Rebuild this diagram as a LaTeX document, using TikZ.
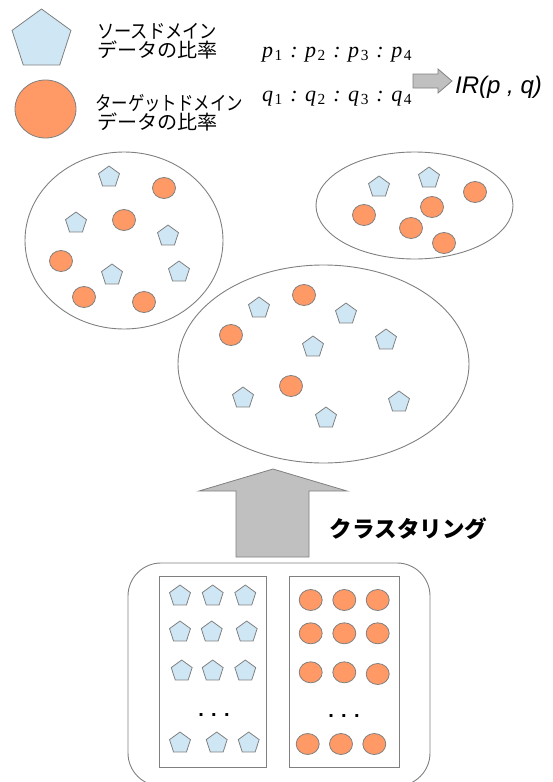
\documentclass[tikz,border=0pt]{standalone}
\usepackage{graphicx}
\usepackage{fontspec}
\setmainfont{Liberation Serif}
\newfontfamily\jp{Noto Sans CJK JP}
\newfontfamily\sansf{Liberation Sans}
\usetikzlibrary{shapes.geometric}

\definecolor{pentfill}{HTML}{CFE6F4}
\definecolor{circfill}{HTML}{FF9966}
\definecolor{edge}{HTML}{808080}
\definecolor{arrowfill}{HTML}{C0C0C0}

\tikzset{
 src/.style={regular polygon, regular polygon sides=5, draw=edge, fill=pentfill, minimum size=22pt, inner sep=0pt, line width=0.8pt},
 tgt/.style={ellipse, draw=edge, fill=circfill, minimum width=23pt, minimum height=21pt, inner sep=0pt, line width=0.8pt},
 cluster/.style={ellipse, draw=edge, line width=0.9pt, inner sep=0pt},
 boxed/.style={draw=edge, line width=0.9pt, inner sep=0pt},
 legendtext/.style={font=\jp\fontsize{19.5}{22}\selectfont, anchor=west, inner sep=0pt},
 ratio/.style={font=\fontsize{22}{26}\selectfont, anchor=west, inner sep=0pt},
 blockarrow/.style={draw=edge, fill=arrowfill, line width=0.8pt, line join=miter},
 dotsrow/.style={font=\sansf\bfseries\fontsize{20}{24}\selectfont, anchor=base, inner sep=0pt},
}
\newcommand\sbx[1]{\hspace{1.5pt}\textsubscript{\upshape #1}}
\newcommand\rsep{\hspace{7.5pt}:\hspace{7.5pt}}

\begin{document}
\begin{tikzpicture}[x=1pt,y=-1pt]
\useasboundingbox (0,0) rectangle (552,782);

% legend
\node[src, minimum size=62pt] (legS) at (41.5,40) {};
\node[tgt, minimum width=61pt, minimum height=58pt] (legT) at (45.5,109) {};
\node[legendtext] (l1) at (97,31) {\scalebox{0.886}[1]{ソースドメイン}};
\node[legendtext] (l2) at (97,50) {\scalebox{1.03}[1]{データの比率}};
\node[legendtext] (l3) at (95,103) {\scalebox{0.843}[1]{ターゲットドメイン}};
\node[legendtext] (l4) at (97,122) {\scalebox{1.03}[1]{データの比率}};

\node[ratio] (pline) at (262,55) {\itshape p\sbx{1}\rsep p\sbx{2}\rsep p\sbx{3}\rsep p\sbx{4}};
\node[ratio] (qline) at (262,99) {\itshape q\sbx{1}\rsep q\sbx{2}\rsep q\sbx{3}\rsep q\sbx{4}};

\coordinate (la) at (413,81);
\draw[blockarrow] (la) ++(0,-7) -- ++(25,0) -- ++(0,-5) -- ++(14,12) -- ++(-14,12) -- ++(0,-5) -- ++(-25,0) -- cycle;
\node[font=\sansf\itshape\fontsize{24}{28}\selectfont, anchor=west, inner sep=0pt] (ir) at (455,87) {IR(p , q)};

% clusters
\node[cluster, minimum width=198pt, minimum height=177pt] (c1) at (124,240.5) {};
\node[cluster, minimum width=197pt, minimum height=107pt] (c2) at (414.5,205.5) {};
\node[cluster, minimum width=291pt, minimum height=198pt] (c3) at (323.5,364) {};

\foreach \p [count=\i] in {(109,177),(76,223),(168,236),(112,275),(179,272)}
  \node[src] (c1s\i) at \p {};
\foreach \p [count=\i] in {(164,188),(124,220),(61,261),(84,297),(144,302)}
  \node[tgt] (c1t\i) at \p {};

\foreach \p [count=\i] in {(379,187),(429,178)}
  \node[src] (c2s\i) at \p {};
\foreach \p [count=\i] in {(475,192),(364,215),(432,207),(411,228),(444,243)}
  \node[tgt] (c2t\i) at \p {};

\foreach \p [count=\i] in {(259,308),(346,314),(313,347),(386,340),(243,398),(326,418),(399,402)}
  \node[src] (c3s\i) at \p {};
\foreach \p [count=\i] in {(304,295),(231,335),(291,386)}
  \node[tgt] (c3t\i) at \p {};

% clustering arrow
\draw[blockarrow] (236,557) -- (236,491) -- (199,491) -- (273,469) -- (347,491) -- (309,491) -- (309,557) -- cycle;
\node[font=\jp\bfseries\fontsize{22.5}{26}\selectfont, inner sep=0pt] (clus) at (408.5,529) {クラスタリング};

% data box
\node[boxed, rounded corners=33pt, minimum width=302pt, minimum height=223pt] (outer) at (279,674.5) {};
\node[boxed, minimum width=107pt, minimum height=191pt] (r1) at (212.5,671.5) {};
\node[boxed, minimum width=110pt, minimum height=191pt] (r2) at (344,671.5) {};

\foreach \p [count=\i] in {(180,596),(212.7,596),(245.3,596),(180,632),(211.7,632),(246.7,632),(181.7,671),(212.7,671),(245.3,671),(180,743),(216.7,743),(248.7,743)}
  \node[src] (gs\i) at \p {};
\foreach \p [count=\i] in {(310.7,600),(344.3,600),(377.7,600),(310.7,633.3),(344.3,633.3),(377.7,633.3),(310.7,672.3),(344.3,672.3),(377.7,674),(307.7,744),(341,744),(374.3,744)}
  \node[tgt] (gt\i) at \p {};

\node[dotsrow] (d1) at (214,716) {. . .};
\node[dotsrow] (d2) at (344,717) {. . .};
\end{tikzpicture}
\end{document}
